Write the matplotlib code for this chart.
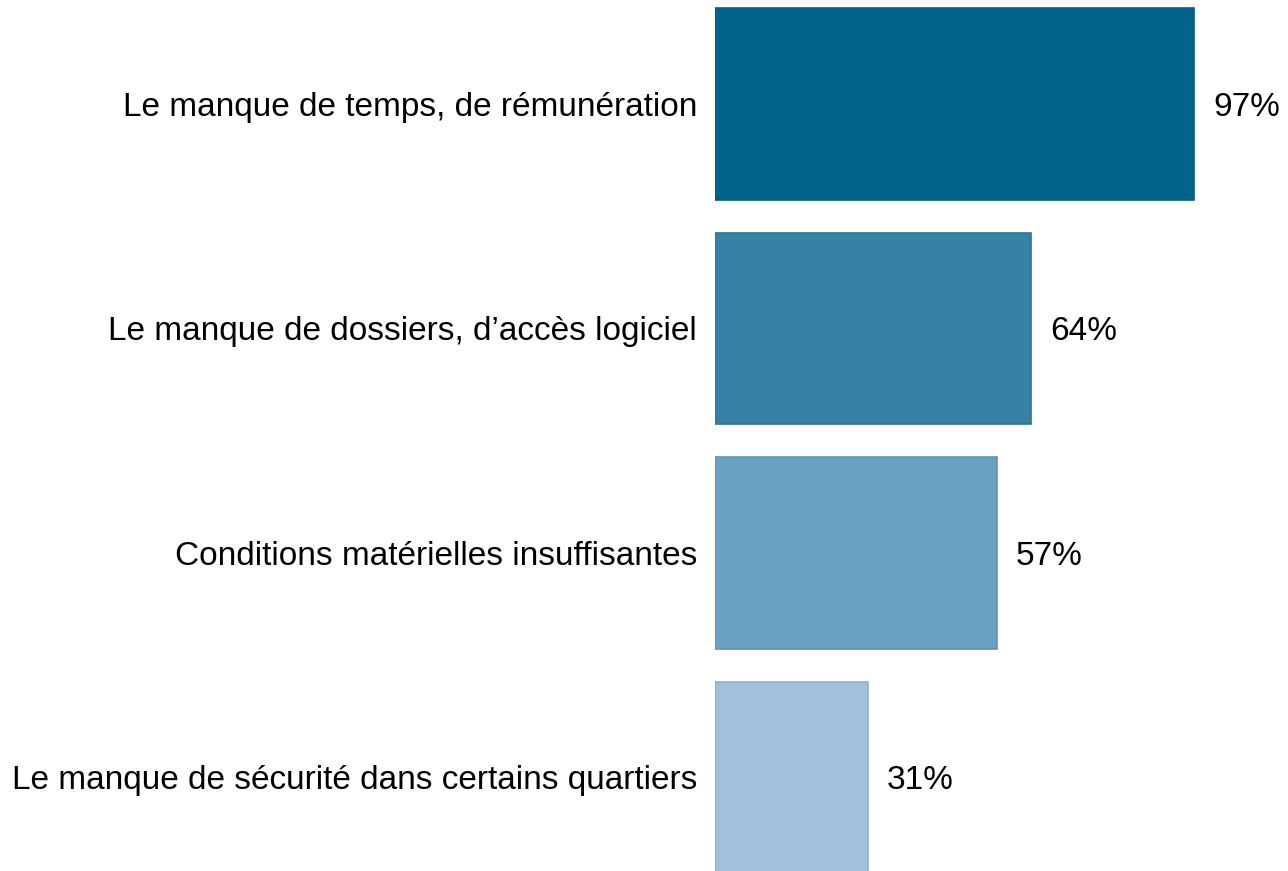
import matplotlib
matplotlib.use("Agg")
import matplotlib.pyplot as plt

plt.rcParams['font.family'] = ['Liberation Sans', 'DejaVu Sans']

categories = ["Le manque de temps, de rémunération",
              "Le manque de dossiers, d\u2019accès logiciel",
              "Conditions matérielles insuffisantes",
              "Le manque de sécurité dans certains quartiers"]
values = [97, 64, 57, 31]
colors = ["#02648A", "#3781A4", "#6BA1C0", "#A3BFDB"]
edges = ["#0A5A7A", "#2F7398", "#5F93B3", "#8FAFD0"]

fig = plt.figure(figsize=(12.88, 8.71), dpi=100)
ax = fig.add_axes([715 / 1288, 0, 494 / 1288, 1])

ypos = list(range(len(values)))
ax.barh(ypos, values, height=0.855, color=colors, edgecolor=edges, linewidth=1.2)

for y, v, lab in zip(ypos, values, categories):
    ax.text(v + 3.8, y + 0.015, f"{v}%", va="center", ha="left", fontsize=24)
    ax.text(-3.6, y + 0.015, lab, va="center", ha="right", fontsize=24)

ax.set_xlim(0, 100)
ax.set_ylim(3.416, -0.463)
ax.axis("off")

fig.savefig("out.png", dpi=100)
